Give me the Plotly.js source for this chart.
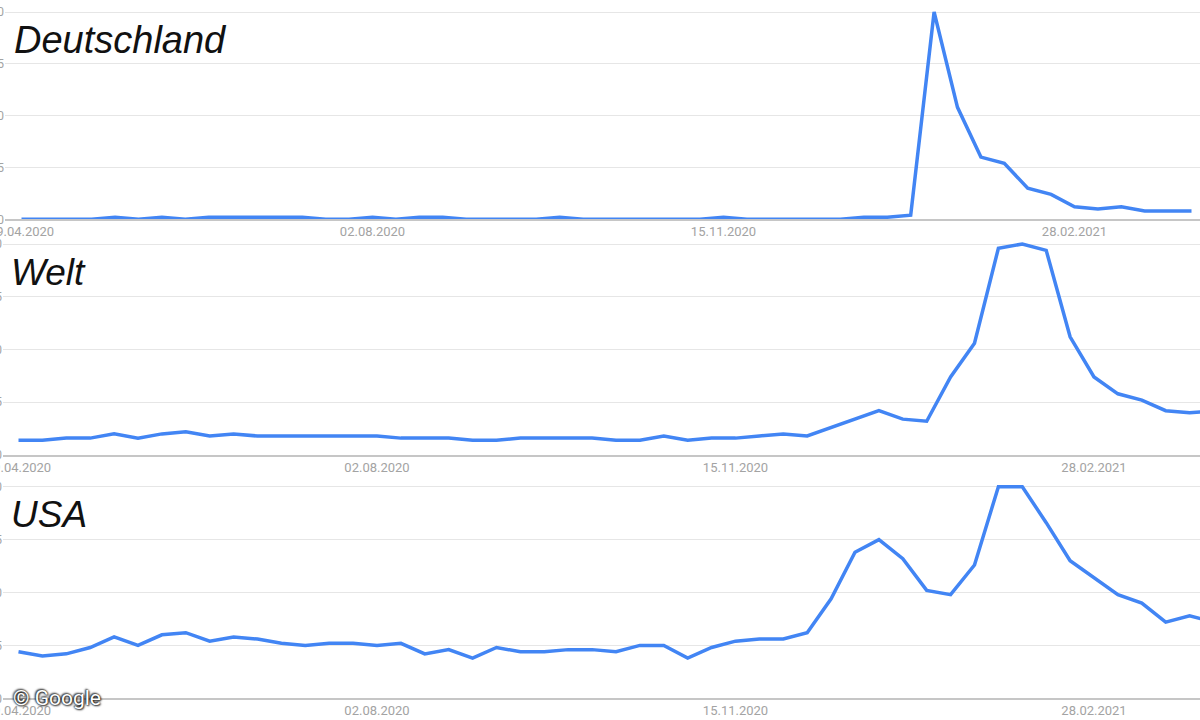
<!DOCTYPE html>
<html>
<head>
<meta charset="utf-8">
<script src="https://cdn.plot.ly/plotly-3.0.1.min.js"></script>
<style>
html, body { margin:0; padding:0; background:#fff; }
#chart { width:1200px; height:720px; }
</style>
</head>
<body>
<div id="chart"></div>
<script>
// ---- data (weekly Google Trends interest, 0-100) ----
const weeks = [
  '2020-04-19','2020-04-26','2020-05-03','2020-05-10','2020-05-17','2020-05-24','2020-05-31',
  '2020-06-07','2020-06-14','2020-06-21','2020-06-28','2020-07-05','2020-07-12','2020-07-19',
  '2020-07-26','2020-08-02','2020-08-09','2020-08-16','2020-08-23','2020-08-30','2020-09-06',
  '2020-09-13','2020-09-20','2020-09-27','2020-10-04','2020-10-11','2020-10-18','2020-10-25',
  '2020-11-01','2020-11-08','2020-11-15','2020-11-22','2020-11-29','2020-12-06','2020-12-13',
  '2020-12-20','2020-12-27','2021-01-03','2021-01-10','2021-01-17','2021-01-24','2021-01-31',
  '2021-02-07','2021-02-14','2021-02-21','2021-02-28','2021-03-07','2021-03-14','2021-03-21',
  '2021-03-28','2021-04-04'
];
const deutschland = [0,0,0,0,1,0,1,0,1,1, 1,1,1,0,0,1,0,1,1,0, 0,0,0,1,0,0,0,0,0,0,
                     1,0,0,0,0,0,1,1,2,100, 54,30,27,15,12,6,5,6,4,4, 4];
const welt = [7,7,8,8,10,8,10,11,9,10, 9,9,9,9,9,9,8,8,8,7, 7,8,8,8,8,7,7,9,7,8,
              8,9,10,9,13,17,21,17,16,37, 53,98,100,97,56,37,29,26,21,20, 21];
const usa = [22,20,21,24,29,25,30,31,27,29, 28,26,25,26,26,25,26,21,23,19, 24,22,22,23,23,22,25,25,19,24,
             27,28,28,31,47,69,75,66,51,49, 63,100,100,83,65,57,49,45,36,39, 36];

const panelNames = ['Deutschland', 'Welt', 'USA'];
const tickDates  = ['2020-04-19', '2020-08-02', '2020-11-15', '2021-02-28'];
const tickLabels = ['19.04.2020', '02.08.2020', '15.11.2020', '28.02.2021'];
const yTicks     = [0, 25, 50, 75, 100];
const yTickText  = ['0', '25', '50', '75', '100'];

// ---- layout geometry (pixels) ----
const W = 1200, H = 720;
const panels = [
  {base:219.3, top100:12,    plotTop:2,   left:5, x0:21.5, step:23.4, nameX:12, nameY:40,  nameSize:38},
  {base:455,   top100:244,   plotTop:236, left:3, x0:18.5, step:23.9, nameX:9,  nameY:272, nameSize:37},
  {base:698.3, top100:486.7, plotTop:478, left:3, x0:18.5, step:23.9, nameX:9,  nameY:514, nameSize:37}
];
const series = [deutschland, welt, usa];

const DAY = 864e5;
const t0 = Date.UTC(2020, 3, 19);
function fmt(ms) { return new Date(ms).toISOString().replace('T', ' ').replace('Z', ''); }

const traces = [];
const layout = {
  width: W, height: H,
  margin: {l:0, r:0, t:0, b:0, pad:0},
  paper_bgcolor: '#ffffff',
  plot_bgcolor: 'rgba(0,0,0,0)',
  showlegend: false,
  annotations: []
};

panels.forEach((p, k) => {
  const n = k === 0 ? '' : String(k + 1);
  const pxPerMs = p.step / (7 * DAY);
  const xr = [fmt(t0 + (p.left - p.x0) / pxPerMs), fmt(t0 + (W - p.x0) / pxPerMs)];
  const pxPerUnit = (p.base - p.top100) / 100;
  const yr = [0, (p.base - p.plotTop) / pxPerUnit];

  traces.push({
    type: 'scatter', mode: 'lines',
    x: weeks, y: series[k],
    xaxis: 'x' + n, yaxis: 'y' + n,
    line: {color: '#4285f4', width: 3.5},
    hoverinfo: 'skip'
  });

  layout['xaxis' + n] = {
    type: 'date', domain: [p.left / W, 1], range: xr, anchor: 'y' + n,
    tickmode: 'array', tickvals: tickDates, ticktext: tickLabels,
    tickfont: {family: 'Roboto, Arial, sans-serif', size: 13, color: '#a3a3a3'},
    ticks: '', showgrid: false, zeroline: false,
    showline: true, linecolor: '#c6c6c6', linewidth: 1.5,
    ticklabeloverflow: 'allow', fixedrange: true
  };
  layout['yaxis' + n] = {
    domain: [(H - p.base) / H, (H - p.plotTop) / H], range: yr, anchor: 'x' + n,
    tickmode: 'array', tickvals: yTicks, ticktext: yTickText,
    tickfont: {family: 'Roboto, Arial, sans-serif', size: 12, color: '#a3a3a3'},
    ticks: '', showgrid: true, gridcolor: '#e6e6e6', gridwidth: 1,
    zeroline: false, showline: false,
    ticklabeloverflow: 'allow', fixedrange: true
  };

  layout.annotations.push({
    xref: 'paper', yref: 'paper',
    x: p.nameX / W, y: (H - p.nameY) / H,
    xanchor: 'left', yanchor: 'middle',
    text: panelNames[k], showarrow: false,
    font: {family: 'Liberation Sans, Arial, sans-serif', size: p.nameSize, color: '#111111', style: 'italic'}
  });
});

layout.annotations.push({
  xref: 'paper', yref: 'paper',
  x: 11 / W, y: (H - 698) / H,
  xanchor: 'left', yanchor: 'middle',
  text: '© Google', showarrow: false,
  font: {family: 'Roboto, Arial, sans-serif', size: 21, color: '#ffffff',
         shadow: '0px 0px 2px rgba(0,0,0,0.95), 1px 1px 2px rgba(0,0,0,0.8), -1px -1px 2px rgba(0,0,0,0.8)'}
});

Plotly.newPlot('chart', traces, layout, {staticPlot: true, displayModeBar: false});
</script>
</body>
</html>
